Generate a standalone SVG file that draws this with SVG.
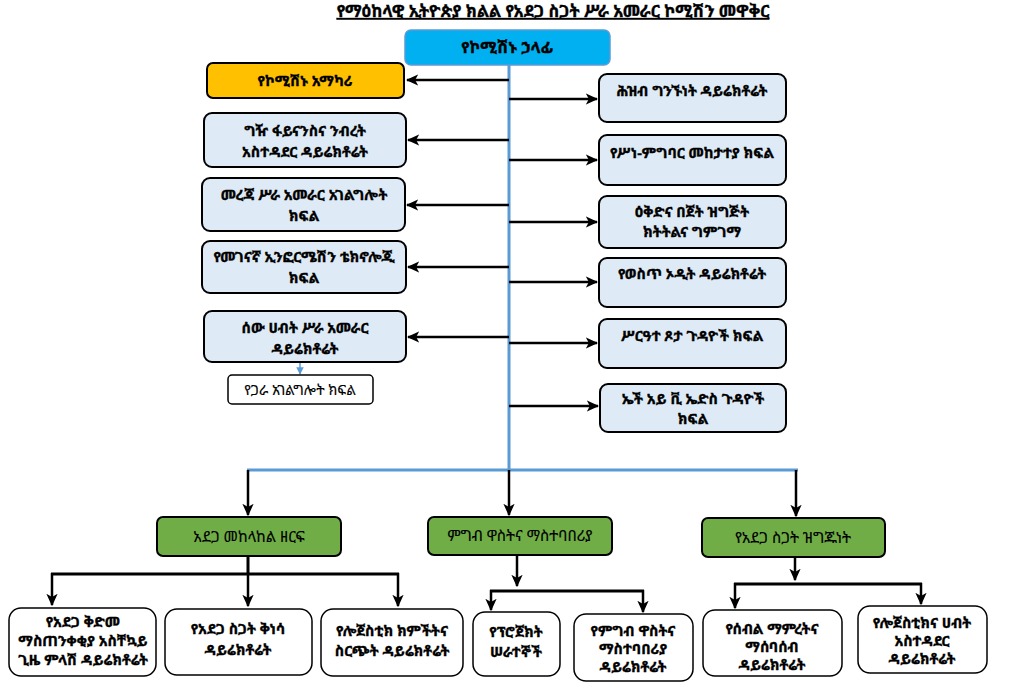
<svg xmlns="http://www.w3.org/2000/svg" width="1024" height="694" viewBox="0 0 1024 694">
<defs>
<marker id="ah" viewBox="0 0 10 10" refX="9" refY="5" markerWidth="5" markerHeight="5" orient="auto" markerUnits="strokeWidth">
<path d="M0,0.5 L10,5 L0,9.5 L2.5,5 z" fill="#000"/>
</marker>
<marker id="ahb" viewBox="0 0 10 10" refX="9" refY="5" markerWidth="5" markerHeight="5" orient="auto" markerUnits="strokeWidth">
<path d="M0,0 L10,5 L0,10 z" fill="#5B9BD5"/>
</marker>
<style>
text{font-family:"Noto Sans Ethiopic","Abyssinica SIL","Noto Serif Ethiopic","Noto Sans","DejaVu Sans",sans-serif;font-size:14.5px;font-weight:bold;fill:#000;stroke:#000;stroke-width:0.35;text-anchor:middle}
.n{font-weight:normal;stroke-width:0.15}
.blue{fill:#DEEBF7;stroke:#000;stroke-width:2}
.green{fill:#70AD47;stroke:#000;stroke-width:2}
.white{fill:#fff;stroke:#000;stroke-width:1.5}
.c{stroke:#000;stroke-width:2.5;fill:none;marker-end:url(#ah)}
.ct{stroke:#000;stroke-width:3;fill:none}
.bl{stroke:#5B9BD5;stroke-width:3;fill:none}
</style>
</defs>
<rect width="1024" height="694" fill="#fff"/>
<text x="553" y="17" style="font-size:16.5px;text-decoration:underline">የማዕከላዊ ኢትዮጵያ ክልል የአደጋ ስጋት ሥራ አመራር ኮሚሽን መዋቅር</text>

<g id="connectors">
<line class="bl" x1="509" y1="64" x2="509" y2="470"/>
<line class="bl" x1="247" y1="470" x2="798" y2="470"/>
<line class="c" x1="509" y1="80" x2="407" y2="80"/>
<line class="c" x1="509" y1="140" x2="408" y2="140"/>
<line class="c" x1="509" y1="205" x2="407" y2="205"/>
<line class="c" x1="509" y1="267" x2="408" y2="267"/>
<line class="c" x1="509" y1="337" x2="408" y2="337"/>
<line class="c" x1="509" y1="99" x2="597" y2="99"/>
<line class="c" x1="509" y1="160" x2="597" y2="160"/>
<line class="c" x1="509" y1="222" x2="597" y2="222"/>
<line class="c" x1="509" y1="282" x2="597" y2="282"/>
<line class="c" x1="509" y1="343" x2="597" y2="343"/>
<line class="c" x1="509" y1="406" x2="598" y2="406"/>
<line x1="300" y1="363" x2="300" y2="374" stroke="#5B9BD5" stroke-width="1.5" marker-end="url(#ahb)"/>
<line class="c" x1="248" y1="470" x2="248" y2="515"/>
<line class="c" x1="509" y1="470" x2="509" y2="515"/>
<line class="c" x1="796" y1="470" x2="796" y2="516"/>
<line class="ct" x1="248" y1="557" x2="248" y2="574"/>
<line class="ct" x1="51" y1="574" x2="399" y2="574"/>
<line class="c" x1="52" y1="573" x2="52" y2="605"/>
<line class="c" x1="248" y1="573" x2="248" y2="606"/>
<line class="c" x1="398" y1="573" x2="398" y2="606"/>
<line class="c" x1="517" y1="556" x2="517" y2="586"/>
<line class="ct" x1="490" y1="591" x2="644" y2="591"/>
<line class="c" x1="491" y1="590" x2="491" y2="610"/>
<line class="c" x1="643" y1="590" x2="643" y2="612"/>
<line class="c" x1="795" y1="558" x2="795" y2="580"/>
<line class="ct" x1="734" y1="584" x2="922" y2="584"/>
<line class="c" x1="735" y1="583" x2="735" y2="608"/>
<line class="c" x1="921" y1="583" x2="921" y2="604"/>
</g>

<g id="head">
<rect x="405" y="30" width="205" height="35" rx="6" fill="#00B0F0" stroke="#5B9BD5" stroke-width="1.5"/>
<text x="507" y="53" style="font-size:16px">የኮሚሽኑ ኃላፊ</text>
</g>

<g id="advisor">
<rect x="207" y="63" width="197" height="35" rx="6" fill="#FFC000" stroke="#000" stroke-width="2"/>
<text x="305" y="86">የኮሚሽኑ አማካሪ</text>
</g>
<g id="procurement">
<rect class="blue" x="204" y="113" width="202" height="54" rx="8"/>
<text x="305" y="136">ግዥ ፋይናንስና ንብረት</text>
<text x="305" y="157">አስተዳደር ዳይሬክቶሬት</text>
</g>
<g id="info-mgmt">
<rect class="blue" x="202" y="178" width="203" height="53" rx="8"/>
<text x="304" y="200">መረጃ ሥራ አመራር አገልግሎት</text>
<text x="304" y="221">ክፍል</text>
</g>
<g id="ict">
<rect class="blue" x="202" y="241" width="204" height="52" rx="8"/>
<text x="304" y="262">የመገናኛ ኢንፎርሜሽን ቴክኖሎጂ</text>
<text x="304" y="283">ክፍል</text>
</g>
<g id="hr">
<rect class="blue" x="204" y="311" width="202" height="51" rx="8"/>
<text x="305" y="333">ሰው ሀብት ሥራ አመራር</text>
<text x="305" y="354">ዳይሬክቶሬት</text>
</g>
<g id="common-service">
<rect class="white" x="228" y="375" width="145" height="29" rx="4"/>
<text class="n" x="300" y="395" style="font-size:14px">የጋራ አገልግሎት ክፍል</text>
</g>

<g id="public-relations">
<rect class="blue" x="599" y="74" width="187" height="48" rx="8"/>
<text x="692" y="96">ሕዝብ ግንኙነት ዳይሬክቶሬት</text>
</g>
<g id="ethics">
<rect class="blue" x="599" y="135" width="187" height="50" rx="8"/>
<text x="692" y="158">የሥነ-ምግባር መከታተያ ክፍል</text>
</g>
<g id="planning">
<rect class="blue" x="599" y="196" width="187" height="52" rx="8"/>
<text x="692" y="217">ዕቅድና በጀት ዝግጅት</text>
<text x="692" y="237">ክትትልና ግምገማ</text>
</g>
<g id="audit">
<rect class="blue" x="599" y="258" width="187" height="49" rx="8"/>
<text x="692" y="279">የወስጥ ኦዲት ዳይሬክቶሬት</text>
</g>
<g id="gender">
<rect class="blue" x="599" y="319" width="187" height="49" rx="8"/>
<text x="692" y="341">ሥርዓተ ጾታ ጉዳዮች ክፍል</text>
</g>
<g id="hiv">
<rect class="blue" x="600" y="384" width="186" height="48" rx="8"/>
<text x="693" y="404">ኤች አይ ቪ ኤድስ ጉዳዮች</text>
<text x="693" y="424">ክፍል</text>
</g>

<g id="prevention-sector">
<rect class="green" x="157" y="517" width="184" height="39" rx="6"/>
<text class="n" x="249" y="542" style="font-size:15px">አደጋ መከላከል ዘርፍ</text>
</g>
<g id="food-sector">
<rect class="green" x="428" y="517" width="184" height="38" rx="6"/>
<text class="n" x="520" y="541" style="font-size:15px">ምግብ ዋስትና ማስተባበሪያ</text>
</g>
<g id="preparedness-sector">
<rect class="green" x="702" y="518" width="183" height="39" rx="6"/>
<text class="n" x="793" y="543" style="font-size:15px">የአደጋ ስጋት ዝግጁነት</text>
</g>

<g id="early-warning">
<rect class="white" x="9" y="608" width="147" height="68" rx="12"/>
<text x="83" y="627">የአደጋ ቅድመ</text>
<text x="83" y="646">ማስጠንቀቂያ አስቸኳይ</text>
<text x="83" y="665">ጊዜ ምላሽ ዳይሬክቶሬት</text>
</g>
<g id="risk-reduction">
<rect class="white" x="165" y="609" width="147" height="66" rx="12"/>
<text x="238" y="634">የአደጋ ስጋት ቅነሳ</text>
<text x="238" y="655">ዳይሬክቶሬት</text>
</g>
<g id="logistics-stock">
<rect class="white" x="321" y="609" width="142" height="67" rx="12"/>
<text x="392" y="636">የሎጀስቲክ ክምችትና</text>
<text x="392" y="656">ስርጭት ዳይሬክቶሬት</text>
</g>
<g id="project-staff">
<rect class="white" x="473" y="612" width="87" height="64" rx="12"/>
<text x="516" y="637">የፕሮጀክት</text>
<text x="516" y="657">ሠራተኞች</text>
</g>
<g id="food-security">
<rect class="white" x="574" y="614" width="119" height="67" rx="12"/>
<text x="633" y="636">የምግብ ዋስትና</text>
<text x="633" y="654">ማስተባበሪያ</text>
<text x="633" y="672">ዳይሬክቶሬት</text>
</g>
<g id="crop">
<rect class="white" x="703" y="610" width="139" height="66" rx="12"/>
<text x="772" y="634">የሰብል ማምረትና</text>
<text x="772" y="652">ማሰባሰብ</text>
<text x="772" y="670">ዳይሬክቶሬት</text>
</g>
<g id="logistics-resource">
<rect class="white" x="858" y="606" width="129" height="67" rx="12"/>
<text x="922" y="628">የሎጀስቲክና ሀብት</text>
<text x="922" y="646">አስተዳደር</text>
<text x="922" y="664">ዳይሬክቶሬት</text>
</g>
</svg>
